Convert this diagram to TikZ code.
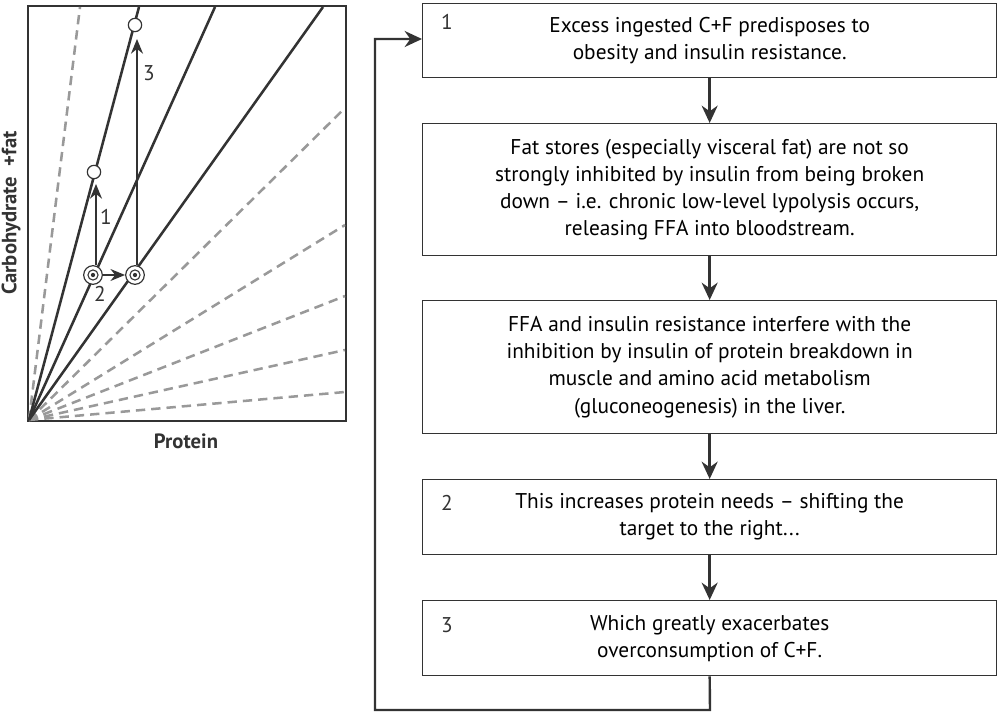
\documentclass[tikz,border=0pt]{standalone}
\usepackage{fontspec}
\setmainfont{PT Sans}
\usetikzlibrary{arrows.meta}
\definecolor{ink}{HTML}{333333}
\definecolor{dash}{HTML}{999999}
\begin{document}
\begin{tikzpicture}[x=0.75pt,y=-0.75pt,
  box/.style={draw=ink,line width=1pt,minimum width=430.5pt,anchor=north west,inner sep=0pt,align=center,font=\fontsize{16}{20.3}\selectfont},
  num/.style={font=\fontsize{16}{18}\selectfont,text=ink},
  solid line/.style={draw=ink,line width=1.9pt},
  dashed line/.style={draw=dash,line width=1.9pt,dash pattern=on 7pt off 4.5pt},
  arr/.style={draw=ink,line width=1.8pt,-{Stealth[length=13pt,width=12pt]}},
  thin arr/.style={draw=ink,line width=1.1pt,-{Stealth[length=11pt,width=9pt]}},
  open/.style={circle,draw=ink,fill=white,line width=0.9pt,minimum size=10pt,inner sep=0pt},
  target/.style={circle,draw=ink,fill=white,line width=0.9pt,minimum size=14pt,inner sep=0pt,
    path picture={\draw[ink,line width=0.8pt] (path picture bounding box.center) circle (3.8pt);
                  \fill[ink] (path picture bounding box.center) circle (1.6pt);}}]
\useasboundingbox (0,0) rectangle (1000,713);
% plot
\coordinate (o) at (29,420);
\draw[ink,line width=1pt] (28,6) rectangle (346,421);
\foreach \p in {(80,7),(345,108),(345,225),(345,296),(345,350),(345,392)}
  \draw[dashed line] (o) -- \p;
\foreach \p in {(139,7),(215,7),(323,7)}
  \draw[solid line] (o) -- \p;
\node[open] (c1) at (94,172) {};
\node[open] (c3) at (135,25) {};
\node[target] (t1) at (93,275) {};
\node[target] (t2) at (135,275) {};
\coordinate (a1) at (96,184);
\coordinate (a3) at (137,39);
\draw[thin arr] (t1.north -| a1) -- (a1);
\draw[thin arr] (t1) -- (t2);
\draw[thin arr] (t2.north -| a3) -- (a3);
\node[num] at (106,217) {1};
\node[num] at (100,294) {2};
\node[num] at (149,73) {3};
\node[font=\bfseries\fontsize{15.5}{18}\selectfont,text=ink,rotate=90] at (11,213) {Carbohydrate \ +fat};
\node[font=\bfseries\fontsize{15.5}{18}\selectfont,text=ink] at (186,441) {Protein};
% boxes
\node[box,minimum height=55.5pt] (b1) at (422,3) {Excess ingested C+F predisposes to\\obesity and insulin resistance.};
\node[box,minimum height=99pt] (b2) at (422,123) {Fat stores (especially visceral fat) are not so\\strongly inhibited by insulin from being broken\\down -- i.e. chronic low-level lypolysis occurs,\\releasing FFA into bloodstream.};
\node[box,minimum height=99.75pt] (b3) at (422,300) {FFA and insulin resistance interfere with the\\inhibition by insulin of protein breakdown in\\muscle and amino acid metabolism\\(gluconeogenesis) in the liver.};
\node[box,minimum height=56.25pt] (b4) at (422,479) {This increases protein needs -- shifting the\\target to the right...};
\node[box,minimum height=56.25pt] (b5) at (422,600) {Which greatly exacerbates\\overconsumption of C+F.};
\node[num] at (447,22) {1};
\node[num] at (447,503) {2};
\node[num] at (447,625) {3};
\draw[arr] (b1) -- (b2);
\draw[arr] (b2) -- (b3);
\draw[arr] (b3) -- (b4);
\draw[arr] (b4) -- (b5);
\coordinate (l1) at (710,710);
\coordinate (l2) at (375,710);
\coordinate (l3) at (375,39);
\draw[arr] (b5.south) -- (l1) -- (l2) -- (l3) -- (b1.west |- l3);
\end{tikzpicture}
\end{document}
